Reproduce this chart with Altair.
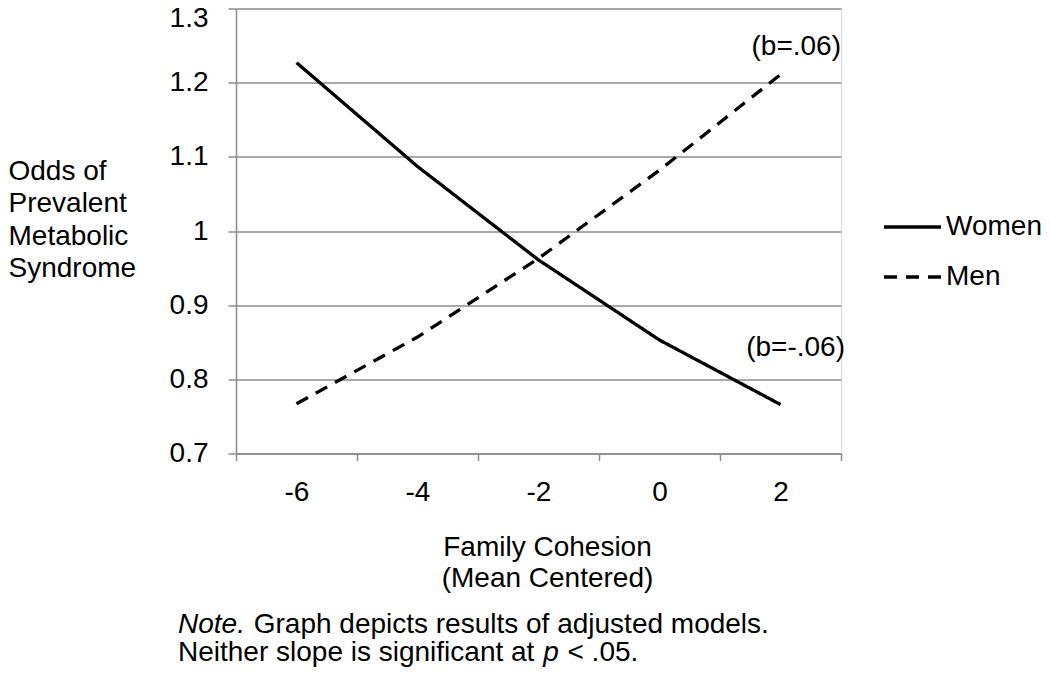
import altair as alt
import pandas as pd

# ---- data ----
cohesion = ["-6", "-4", "-2", "0", "2"]
women = [1.227, 1.087, 0.961, 0.853, 0.766]
men = [0.767, 0.857, 0.963, 1.082, 1.211]
y_ticks = [0.7, 0.8, 0.9, 1.0, 1.1, 1.2, 1.3]
series = ["Women", "Men"]
slope_men = "(b=.06)"
slope_women = "(b=-.06)"
y_title = ["Odds of", "Prevalent", "Metabolic", "Syndrome"]
x_title = ["Family Cohesion", "(Mean Centered)"]
note_1 = ["Note.", "Graph depicts results of adjusted models."]
note_2 = ["Neither slope is significant at", "p", "< .05."]

FONT = "Liberation Sans"
FS = 28
GRAY = "#8c8c8c"
W, H = 605, 445
DASH_MEN = [13, 9]

df = pd.DataFrame({
    "cohesion": cohesion * 2,
    "odds": women + men,
    "sex": [series[0]] * len(women) + [series[1]] * len(men),
})

x_enc = alt.X(
    "cohesion:N",
    sort=cohesion,
    bandPosition=0.5,
    scale=alt.Scale(type="band", paddingInner=0, paddingOuter=0),
    axis=alt.Axis(
        title=x_title,
        labelAngle=0,
        tickBand="extent",
        domainColor=GRAY, domainWidth=1.5,
        tickColor=GRAY, tickWidth=1.5, tickSize=7,
        labelFont=FONT, labelFontSize=FS, labelColor="black", labelPadding=18,
        titleFont=FONT, titleFontSize=FS, titleFontWeight="normal", titleColor="black",
        titleLineHeight=31, titleAlign="center", titleBaseline="top",
        titleX=311, titleY=80,
        grid=False,
    ),
)

y_enc = alt.Y(
    "odds:Q",
    scale=alt.Scale(domain=[0.7, 1.3], nice=False, zero=False),
    axis=alt.Axis(
        values=y_ticks,
        format="~g",
        title=y_title,
        titleAngle=0, titleAlign="left", titleBaseline="top",
        titleX=-228, titleY=149, titleLineHeight=32.3,
        titleFont=FONT, titleFontSize=FS, titleFontWeight="normal", titleColor="black",
        grid=True, gridColor=GRAY, gridWidth=1.5,
        domainColor=GRAY, domainWidth=1.5,
        tickColor=GRAY, tickWidth=1.5, tickSize=8,
        labelFont=FONT, labelFontSize=FS, labelColor="black", labelPadding=20,
        labelOffset=alt.condition("datum.value > 1.25", alt.value(10), alt.value(0)),
    ),
)

lines = alt.Chart(df).mark_line(color="black", strokeWidth=3.3).encode(
    x=x_enc,
    y=y_enc,
    strokeDash=alt.StrokeDash(
        "sex:N",
        scale=alt.Scale(domain=series, range=[[1, 0], DASH_MEN]),
        legend=None,
    ),
    detail="sex:N",
)

layers = [lines]

# custom legend
for i, name in enumerate(series):
    ly = 218.5 + i * 50
    leg_df = pd.DataFrame({"sex": [name]})
    rule = alt.Chart(leg_df).mark_rule(
        color="black", strokeWidth=3.3,
        strokeDash=[1, 0] if i == 0 else DASH_MEN,
    ).encode(x=alt.value(648), x2=alt.value(705), y=alt.value(ly))
    txt = alt.Chart(leg_df).mark_text(
        font=FONT, fontSize=FS, color="black", align="left", baseline="middle",
    ).encode(x=alt.value(710), y=alt.value(ly), text="sex:N")
    layers += [rule, txt]

# slope annotations
def text_layer(s, xv, yv, align="left", style="normal"):
    return alt.Chart(pd.DataFrame({"t": [s]})).mark_text(
        font=FONT, fontSize=FS, color="black", align=align, baseline="middle",
        fontStyle=style,
    ).encode(x=alt.value(xv), y=alt.value(yv), text="t:N")

layers.append(text_layer(slope_men, 605, 38.5, align="right"))
layers.append(text_layer(slope_women, 609, 339.5, align="right"))

# note lines (mixed italic)
NX = -58
layers.append(text_layer(note_1[0], NX, 616.5, style="italic"))
layers.append(text_layer(note_1[1], NX + (2.39 + 0.278) * FS + 1, 616.5))
layers.append(text_layer(note_2[0], NX, 644.5))
layers.append(text_layer(note_2[1], NX + 13.005 * FS + 1, 644.5, style="italic"))
layers.append(text_layer(note_2[2], NX + (13.005 + 0.834) * FS + 2, 644.5))

chart = alt.layer(*layers).properties(
    width=W,
    height=H,
    autosize=alt.AutoSizeParams(type="none"),
    padding={"left": 228, "top": 0.5, "right": 201, "bottom": 217},
).configure_view(stroke="transparent").configure(background="white")

chart.save("out.html", embed_options={"renderer": "svg", "actions": False})
